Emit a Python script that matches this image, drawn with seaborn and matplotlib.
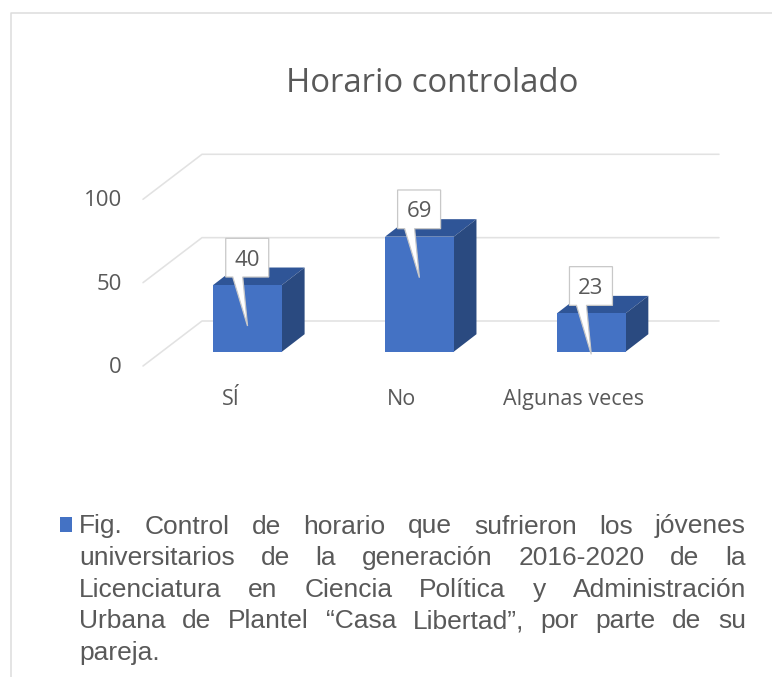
import matplotlib
matplotlib.use("Agg")
import matplotlib.pyplot as plt
from matplotlib.lines import Line2D
from matplotlib.patches import Polygon, Rectangle
from matplotlib.transforms import ScaledTranslation
import seaborn as sns

categories = ["SÍ", "No", "Algunas veces"]
values = [40, 69, 23]
y_ticks = [0, 50, 100]
title = "Horario controlado"
caption_lines = [
    "Fig. Control de horario que sufrieron los jóvenes",
    "universitarios de la generación 2016-2020 de la",
    "Licenciatura en Ciencia Política y Administración",
    "Urbana de Plantel “Casa Libertad”, por parte de su",
    "pareja.",
]

W, H = 772, 677
FRONT, TOP, SIDE = "#4472C4", "#2F5597", "#2A4A80"
GRID, TEXT = "#E2E2E2", "#595959"
UI_FONT = "Open Sans"

sns.set_theme(style="white")
plt.rcParams["font.family"] = ["Open Sans", "DejaVu Sans"]

fig = plt.figure(figsize=(W / 100, H / 100), dpi=100, facecolor="white")
L, R, T, B = 161.6, 677.2, 185.0, 351.7
ax = fig.add_axes([L / W, 1 - B / H, (R - L) / W, (B - T) / H])

sns.barplot(x=categories, y=values, color=FRONT, saturation=1, width=0.4,
            ax=ax, zorder=3, edgecolor="none")
ax.set_xlim(-0.5, 2.5)
ax.set_ylim(0, 100)
ax.set_xlabel("")
ax.set_ylabel("")
sns.despine(ax=ax, left=True, bottom=True)
ax.patch.set_alpha(0)

PX_X = (R - L) / 3
PX_Y = (B - T) / 100


def dx(px):
    return px / PX_X


def dy(px):
    return px / PX_Y


def x_at(px):
    return -0.5 + (px - L) / PX_X


# walls: floor/back lines for each tick
for v in y_ticks:
    ax.plot([x_at(143), x_at(202), x_at(719)],
            [v + dy(-14.3), v + dy(30.7), v + dy(30.7)],
            color=GRID, lw=1.15, clip_on=False, zorder=1,
            solid_joinstyle="round")

# 3D faces and callouts
DEPTH_X, DEPTH_Y = dx(22.7), dy(17.5)
half = 0.2
for i, v in enumerate(values):
    top = [(i - half, v), (i + half, v), (i + half + DEPTH_X, v + DEPTH_Y),
           (i - half + DEPTH_X, v + DEPTH_Y)]
    side = [(i + half, 0), (i + half + DEPTH_X, DEPTH_Y),
            (i + half + DEPTH_X, v + DEPTH_Y), (i + half, v)]
    ax.add_patch(Polygon(top, closed=True, fc=TOP, ec="none", zorder=2.5, clip_on=False))
    ax.add_patch(Polygon(side, closed=True, fc=SIDE, ec="none", zorder=2.5, clip_on=False))

    cx = i - dx(0.3)
    callout = [
        (cx - dx(21.5), v + dy(46.7)), (cx + dx(21.5), v + dy(46.7)),
        (cx + dx(21.5), v + dy(8)), (cx - dx(4.5), v + dy(8)),
        (cx + dx(0.3), v - dy(41)), (cx - dx(14.5), v + dy(8)),
        (cx - dx(21.5), v + dy(8)),
    ]
    ax.add_patch(Polygon(callout, closed=True, fc="white", ec="#C8C8C8", lw=0.9,
                         zorder=4, clip_on=False, joinstyle="miter"))
    ax.text(cx, v + dy(25.0), str(v), ha="center", va="center", fontsize=16,
            color=TEXT, zorder=5, family=UI_FONT)

# axes labels, shifted the way the 3D projection shifts them
ax.set_yticks(y_ticks)
ax.set_yticklabels([str(t) for t in y_ticks])
ax.tick_params(axis="y", length=0, pad=28.5, labelsize=16, labelcolor=TEXT)
ax.tick_params(axis="x", length=0, pad=27.0, labelsize=15.5, labelcolor=TEXT)
for lab in ax.get_yticklabels():
    lab.set_transform(lab.get_transform() +
                      ScaledTranslation(0, -13.2 / 100, fig.dpi_scale_trans))
for lab, off in zip(ax.get_xticklabels(), [-16.5, -17.5, -18.0]):
    lab.set_transform(lab.get_transform() +
                      ScaledTranslation(off / 100, 0, fig.dpi_scale_trans))

fig.text(432 / W, 1 - 83 / H, title, ha="center", va="center", fontsize=23.7,
         color=TEXT, family=UI_FONT)

# chart frame
fig.add_artist(Line2D([10.5 / W, 10.5 / W, 1], [0, 1 - 12.5 / H, 1 - 12.5 / H],
                      color="#DDDDDD", lw=1.1, transform=fig.transFigure))

# caption: legend swatch and justified text
fig.add_artist(Rectangle((59.5 / W, 1 - 531.5 / H), 12.3 / W, 14.2 / H, fc=FRONT,
                         ec="none", transform=fig.transFigure))
renderer = fig.canvas.get_renderer()
CAP_L, CAP_R, CAP_FIRST, CAP_STEP = 79.0, 746.0, 533.5, 31.6
for n, line in enumerate(caption_lines):
    words = line.split(" ")
    y = 1 - (CAP_FIRST + n * CAP_STEP) / H
    items = [fig.text(CAP_L / W, y, w, fontsize=19.0, color=TEXT,
                      family="Liberation Sans", va="baseline") for w in words]
    widths = [t.get_window_extent(renderer).width for t in items]
    last = n == len(caption_lines) - 1
    gap = 7.0 if last or len(words) == 1 else (CAP_R - CAP_L - sum(widths)) / (len(words) - 1)
    x = CAP_L
    for t, w in zip(items, widths):
        t.set_x(x / W)
        x += w + gap

fig.savefig("out.png", dpi=100, facecolor="white")
